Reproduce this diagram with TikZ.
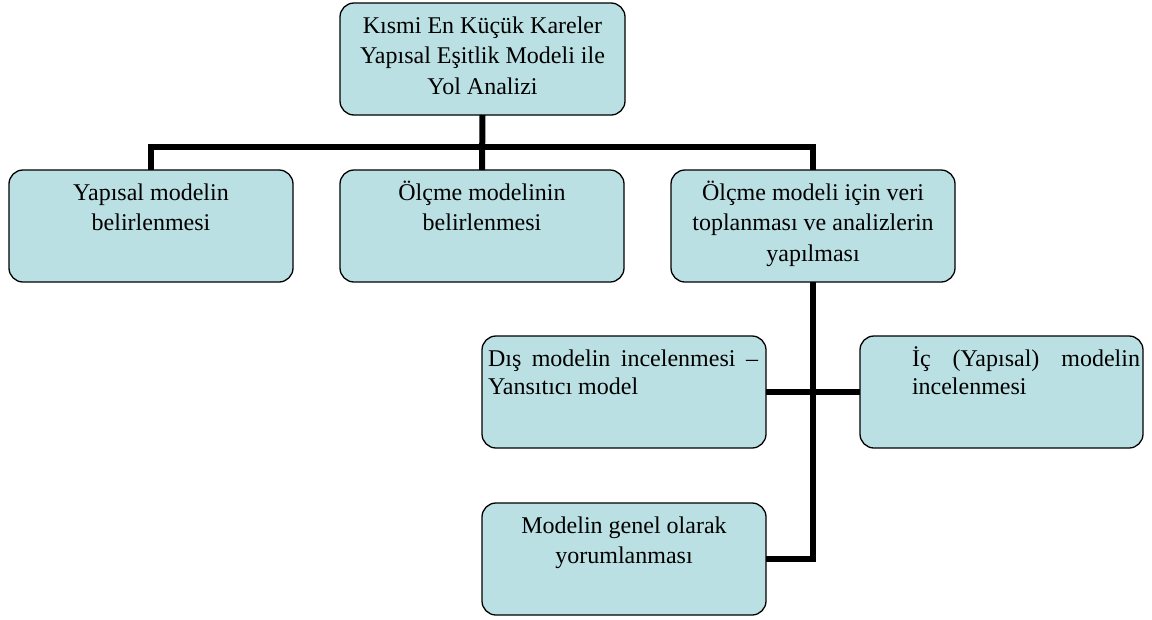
\documentclass[tikz,border=0pt]{standalone}
\usepackage{fontspec}
\setmainfont{Liberation Serif}
\definecolor{boxfill}{RGB}{186,224,227}
\newcommand{\bxc}[2]{\parbox[c][112pt][t]{#1pt}{\centering\fontsize{24}{30.5}\selectfont\rule{0pt}{30pt}#2\par}}
\newcommand{\bxj}[4]{\parbox[c][112pt][t]{#1pt}{\fontsize{24}{28}\selectfont\leftskip=#2pt \rightskip=#3pt \parindent=0pt \rule{0pt}{30pt}#4\par}}
\tikzset{
  box/.style={draw=black, line width=1.3pt, fill=boxfill, rounded corners=14pt, inner sep=0pt, outer sep=0pt, anchor=north west},
  conn/.style={draw=black, line width=6pt, line join=miter}
}
\begin{document}
\begin{tikzpicture}[x=1pt,y=-1pt]
\useasboundingbox (0,0) rectangle (1152,619);
\node[box] (top) at (340,3) {\bxc{285}{Kısmi En Küçük Kareler\\Yapısal Eşitlik Modeli ile\\Yol Analizi}};
\node[box] (b1) at (9,170) {\bxc{284}{Yapısal modelin\\belirlenmesi}};
\node[box] (b2) at (340,170) {\bxc{284}{Ölçme modelinin\\belirlenmesi}};
\node[box] (b3) at (671,170) {\bxc{284}{Ölçme modeli için veri\\toplanması ve analizlerin\\yapılması}};
\node[box] (d) at (482,336) {\bxj{284}{6}{8}{Dış modelin incelenmesi –\linebreak Yansıtıcı model}};
\node[box] (i) at (860,336) {\bxj{283}{52}{3}{İç (Yapısal) modelin\linebreak incelenmesi}};
\node[box] (m) at (482,503) {\bxc{284}{Modelin genel olarak\\yorumlanması}};
\coordinate (bus) at (0,147);
\draw[conn] (top.south) -- (b2.north);
\draw[conn] (b1.north) -- (b1.north |- bus) -| (b3.north);
\draw[conn] (b3.south) |- (m.east);
\draw[conn] (d.east) -- (i.west);
\end{tikzpicture}
\end{document}
